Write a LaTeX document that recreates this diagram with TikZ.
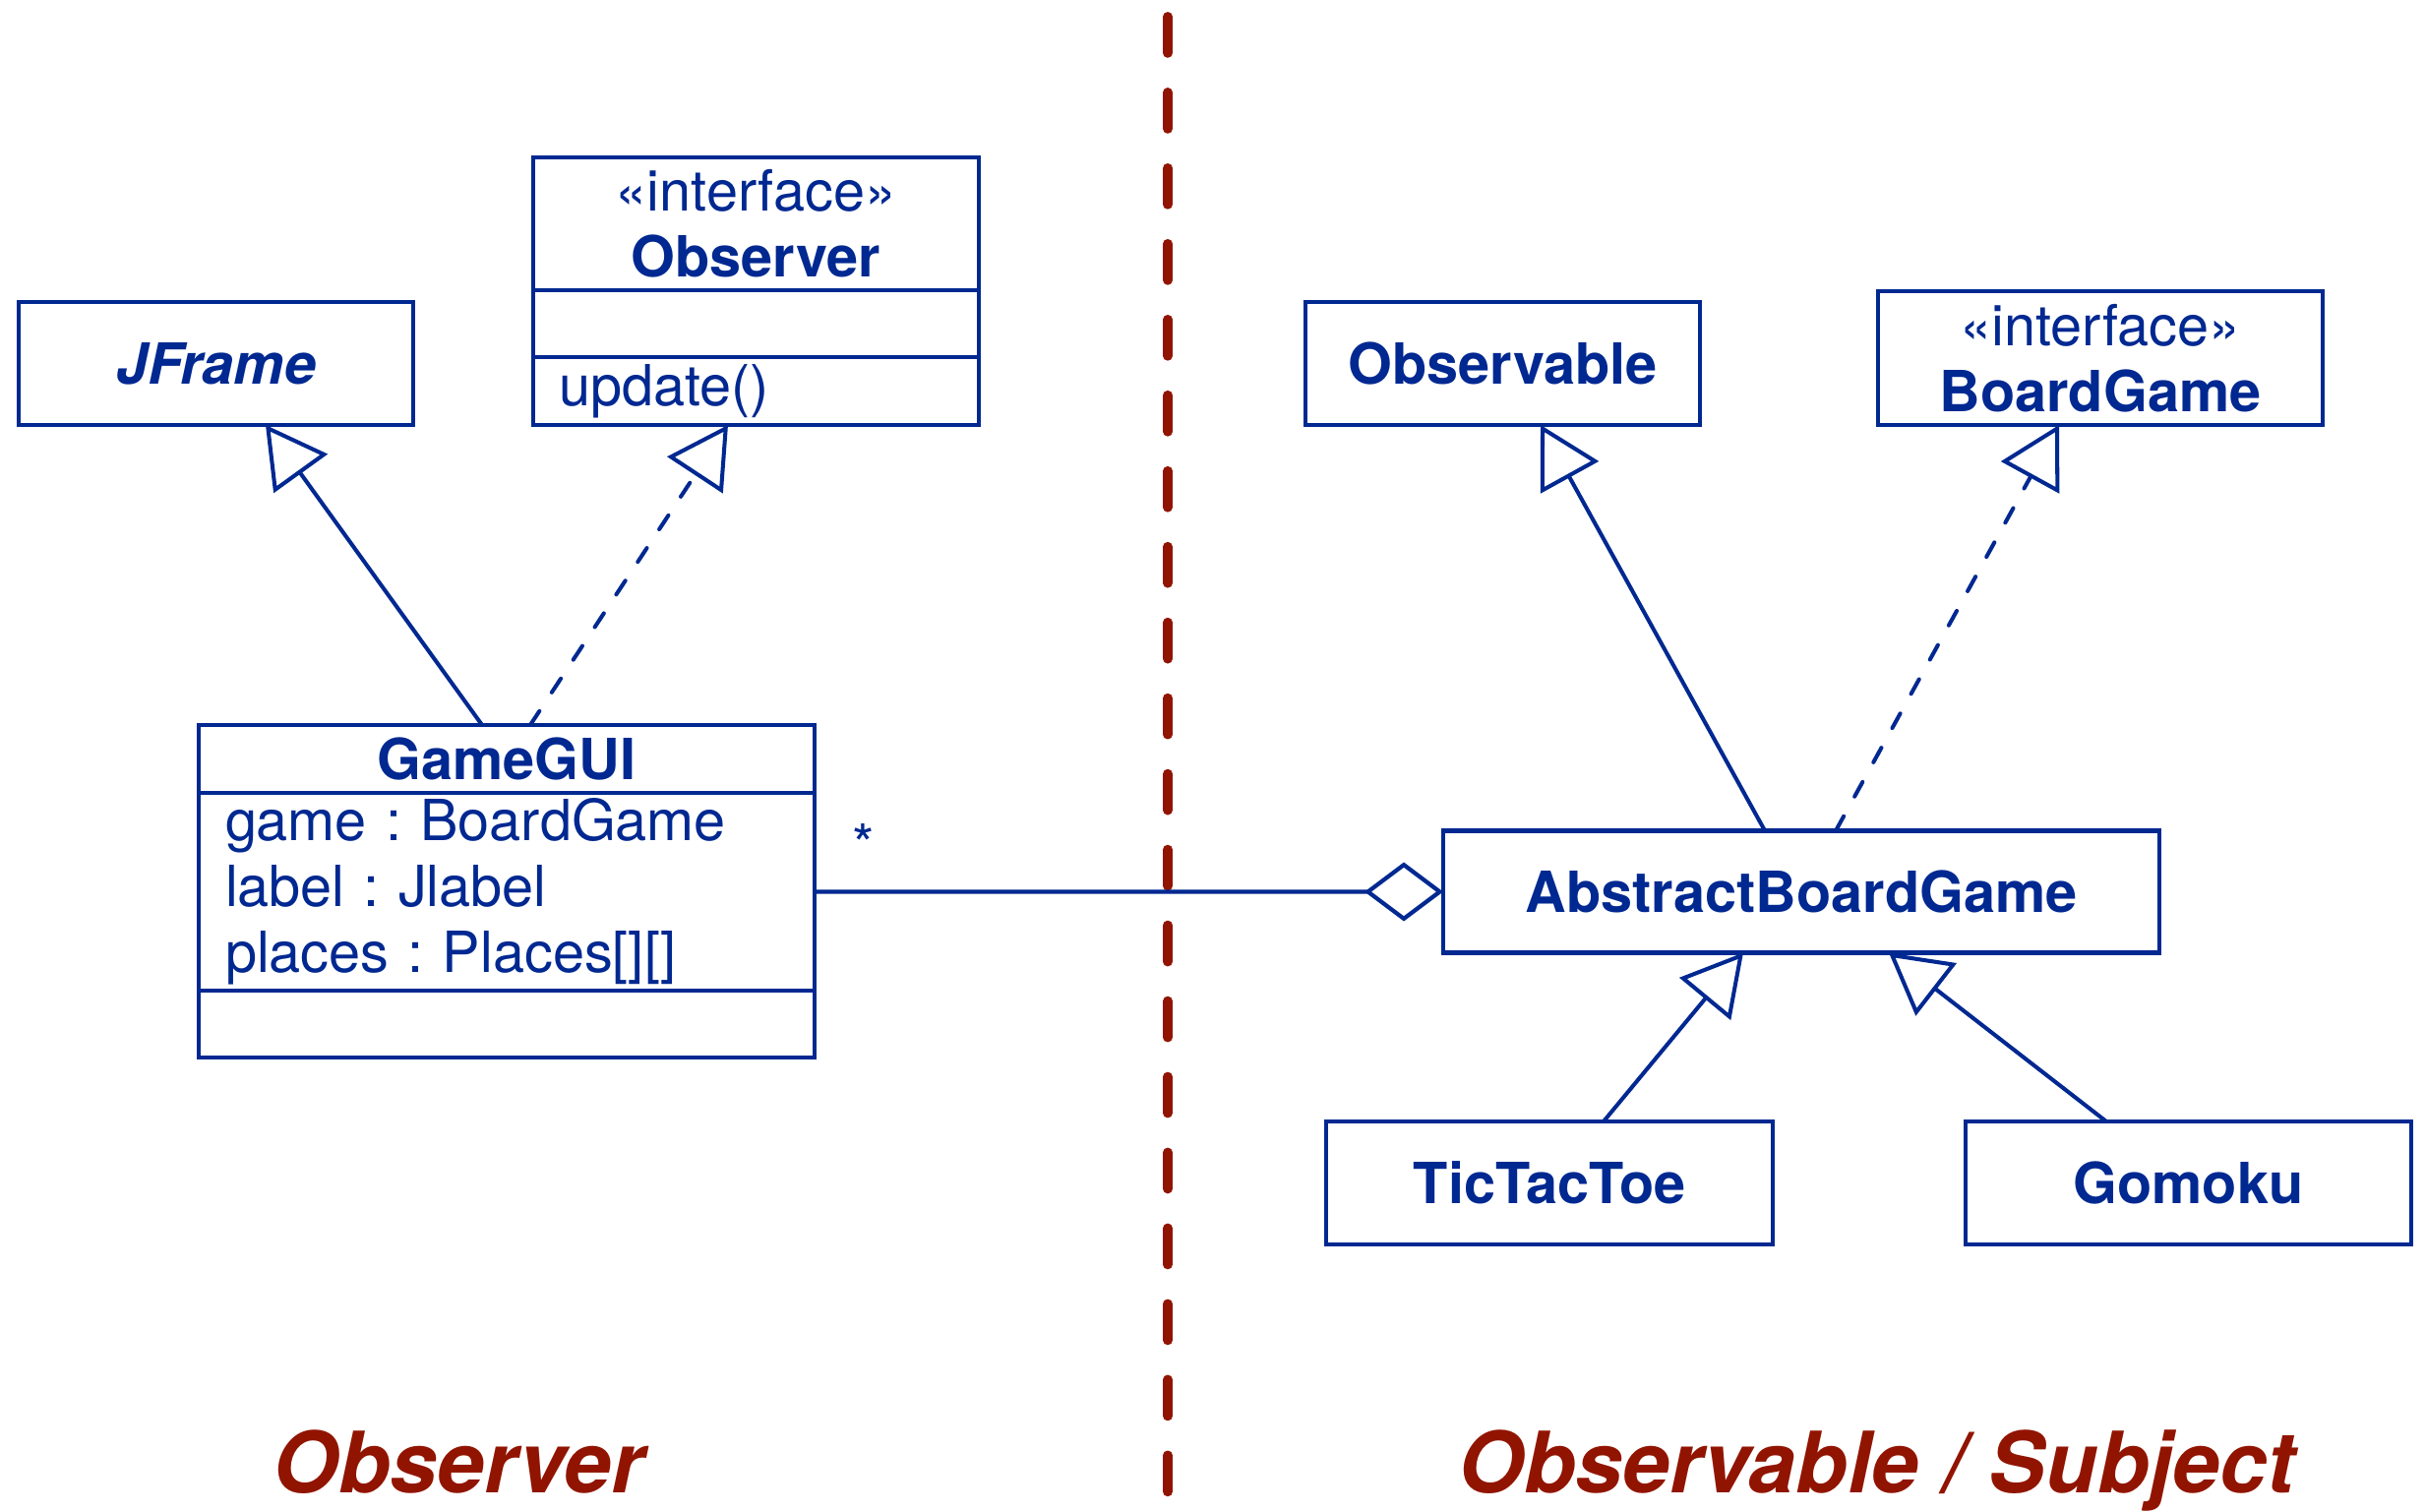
\documentclass[tikz,border=0pt]{standalone}
\usepackage{fontspec}
\setmainfont{TeX Gyre Heros}
\frenchspacing
\usetikzlibrary{positioning, arrows.meta}
\definecolor{umlblue}{RGB}{0,40,145}
\definecolor{sepred}{RGB}{145,20,0}
\tikzset{
  cls/.style={draw=umlblue, line width=1.2pt, outer sep=0pt, inner sep=0pt, text=umlblue, align=center, font=\fontsize{16.4}{19}\selectfont},
  members/.style={cls, align=left},
  inherit/.style={draw=umlblue, line width=1.15pt, -{Triangle[open, length=0.61cm, width=0.67cm]}},
  realize/.style={inherit, dash pattern=on 4.8pt off 6.5pt, line cap=round},
  aggregate/.style={draw=umlblue, line width=1.2pt, -{Diamond[open, length=0.8cm, width=0.6cm]}},
  mult/.style={text=umlblue, font=\fontsize{16.4}{19}\selectfont},
  side/.style={text=sepred, inner sep=0pt, font=\fontsize{24.5}{29}\selectfont\bfseries\itshape}
}
\begin{document}
\begin{tikzpicture}
\useasboundingbox (0,0) rectangle (24.65,-15.37);

\node[cls, minimum width=4.01cm, minimum height=1.25cm] (jf) at (2.195,-3.695) {\bfseries\itshape JFrame};
\node[cls, minimum width=4.53cm, minimum height=1.35cm] (obs) at (7.685,-2.275) {«interface»\\\textbf{Observer}};
\node[cls, minimum width=4.53cm, minimum height=0.68cm, below=0pt of obs] (obs-attr) {};
\node[members, text width=4.01cm, inner xsep=0.26cm, minimum height=0.69cm, below=0pt of obs-attr] (obs-ops) {update()};

\node[cls, minimum width=6.26cm, minimum height=0.69cm] (gui) at (5.15,-7.715) {\bfseries GameGUI};
\node[members, text width=5.72cm, inner xsep=0.27cm, minimum height=2.01cm, below=0pt of gui] (gui-attr) {game : BoardGame\\label : Jlabel\\places : Places[][]};
\node[cls, minimum width=6.26cm, minimum height=0.68cm, below=0pt of gui-attr] (gui-ops) {};

\node[cls, minimum width=4.01cm, minimum height=1.25cm] (obl) at (15.275,-3.695) {\bfseries Observable};
\node[cls, minimum width=4.52cm, minimum height=1.36cm] (bg) at (21.35,-3.64) {«interface»\\\textbf{BoardGame}};
\node[cls, minimum width=7.28cm, minimum height=1.24cm] (abg) at (18.31,-9.065) {\bfseries AbstractBoardGame};
\node[cls, minimum width=4.54cm, minimum height=1.25cm] (ttt) at (15.75,-12.025) {\bfseries TicTacToe};
\node[cls, minimum width=4.53cm, minimum height=1.25cm] (gmk) at (22.245,-12.025) {\bfseries Gomoku};

\coordinate (sep-top) at (11.87,-0.17);
\coordinate (sep-bot) at (11.87,-15.6);
\draw[sepred, line width=2.8pt, line cap=round, dash pattern=on 10.5pt off 11.4pt] (sep-top) -- (sep-bot);

\node[side, anchor=base] (lbl-obs) at (4.66,-15.18) {Observer};
\node[side, anchor=base] (lbl-subj) at (19.075,-15.18) {Observable / Subject};

\draw
([xshift=-0.25cm]gui.north) edge[inherit] ([xshift=0.505cm]jf.south)
([xshift=0.24cm]gui.north) edge[realize] ([xshift=-0.285cm]obs-ops.south)
(gui-attr.east) edge[aggregate] node[mult, pos=0.078, anchor=base, yshift=0.27cm] {*} (abg.west)
([xshift=-0.37cm]abg.north) edge[inherit] ([xshift=0.385cm]obl.south)
([xshift=0.35cm]abg.north) edge[realize] ([xshift=-0.42cm]bg.south)
([xshift=0.55cm]ttt.north) edge[inherit] ([xshift=-0.59cm]abg.south)
([xshift=-0.835cm]gmk.north) edge[inherit] ([xshift=0.89cm]abg.south);
\end{tikzpicture}
\end{document}
